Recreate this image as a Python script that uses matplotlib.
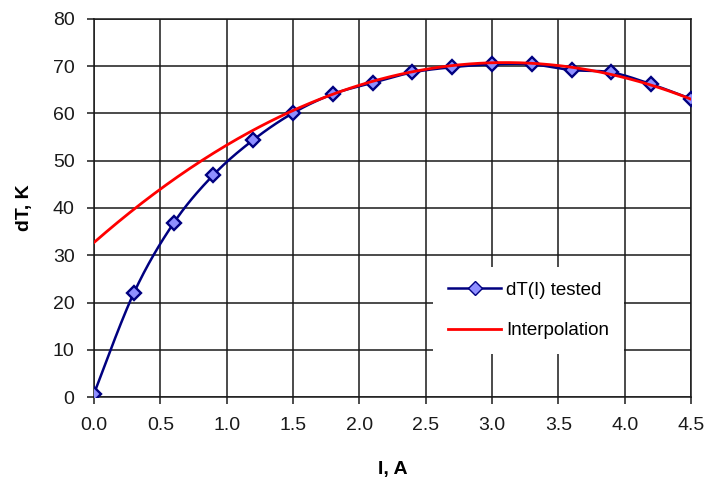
import numpy as np
import matplotlib
matplotlib.use("Agg")
import matplotlib.pyplot as plt

# Measured temperature difference vs. current
current_a = [0.0, 0.3, 0.6, 0.9, 1.2, 1.5, 1.8, 2.1, 2.4, 2.7, 3.0, 3.3, 3.6, 3.9, 4.2, 4.5]
dt_tested = [0.7, 22.0, 36.8, 47.0, 54.4, 60.1, 64.1, 66.5, 68.7, 69.8, 70.4, 70.4, 69.2, 68.7, 66.2, 63.1]

# Quadratic interpolation: dT = c0 + c1*I + c2*I^2
interp_coeffs = [32.7, 24.56, -3.96]

x_ticks = [0.0, 0.5, 1.0, 1.5, 2.0, 2.5, 3.0, 3.5, 4.0, 4.5]
y_ticks = [0, 10, 20, 30, 40, 50, 60, 70, 80]


def catmull_rom(xs, ys, steps=24):
    """Smooth curve through the given points (uniform Catmull-Rom)."""
    pts = np.column_stack([xs, ys]).astype(float)
    ext = np.vstack([pts[0], pts, pts[-1]])
    out = []
    t = np.linspace(0, 1, steps, endpoint=False)[:, None]
    for i in range(1, len(ext) - 2):
        p0, p1, p2, p3 = ext[i - 1], ext[i], ext[i + 1], ext[i + 2]
        seg = 0.5 * ((2 * p1) + (-p0 + p2) * t + (2 * p0 - 5 * p1 + 4 * p2 - p3) * t ** 2
                     + (-p0 + 3 * p1 - 3 * p2 + p3) * t ** 3)
        out.append(seg)
    out.append(pts[-1][None, :])
    out = np.vstack(out)
    return out[:, 0], out[:, 1]


plt.rcParams["font.family"] = ["Liberation Sans", "DejaVu Sans"]

fig = plt.figure(figsize=(7.06, 4.82), dpi=100)
ax = fig.add_axes([94 / 706, 85 / 482, 597 / 706, 378 / 482])

# Tested data: smoothed line plus diamond markers
sx, sy = catmull_rom(current_a, dt_tested)
ax.plot(sx, sy, color="#000080", lw=1.8, zorder=3)
ax.plot(current_a, dt_tested, ls="none", marker="D", ms=7.2, mfc="#8f8fff",
        mec="#000080", mew=1.7, zorder=4)
# legend proxy
tested_handle, = ax.plot([], [], color="#000080", lw=1.8, marker="D", ms=7,
                         mfc="#8f8fff", mec="#000080", mew=1.0, label="dT(I) tested")

# Interpolation curve
xi = np.linspace(current_a[0], current_a[-1], 300)
yi = np.polyval(interp_coeffs[::-1], xi)
interp_handle, = ax.plot(xi, yi, color="#ff0000", lw=2.0, zorder=5, label="Interpolation")

ax.set_xlim(0, 4.5)
ax.set_ylim(0, 80)
ax.set_xticks(x_ticks)
ax.set_yticks(y_ticks)
ax.set_xticklabels([f"{v:.1f}" for v in x_ticks])
ax.set_yticklabels([str(v) for v in y_ticks])

ax.grid(True, color="#1a1a1a", lw=1.1, zorder=1)
ax.set_axisbelow(True)
for s in ax.spines.values():
    s.set_color("#1a1a1a")
    s.set_linewidth(1.1)

ax.tick_params(axis="both", direction="out", length=5, width=1.1, color="#1a1a1a",
               labelsize=14, labelcolor="#1a1a1a")
ax.tick_params(axis="x", pad=9.5)
ax.tick_params(axis="y", pad=9)

ax.set_xlabel("I, A", fontsize=14, fontweight="bold", labelpad=19)
ax.set_ylabel("dT, K", fontsize=14, fontweight="bold", labelpad=14)

leg = ax.legend(handles=[tested_handle, interp_handle], loc="upper left",
                bbox_to_anchor=(0.568, 0.345), borderaxespad=0, frameon=True,
                fancybox=False, edgecolor="none", facecolor="white", framealpha=1,
                fontsize=13.5, handlelength=2.83, handletextpad=0.27,
                labelspacing=1.25, borderpad=0.8)
leg.set_zorder(10)

fig.savefig("out.png", dpi=100)
